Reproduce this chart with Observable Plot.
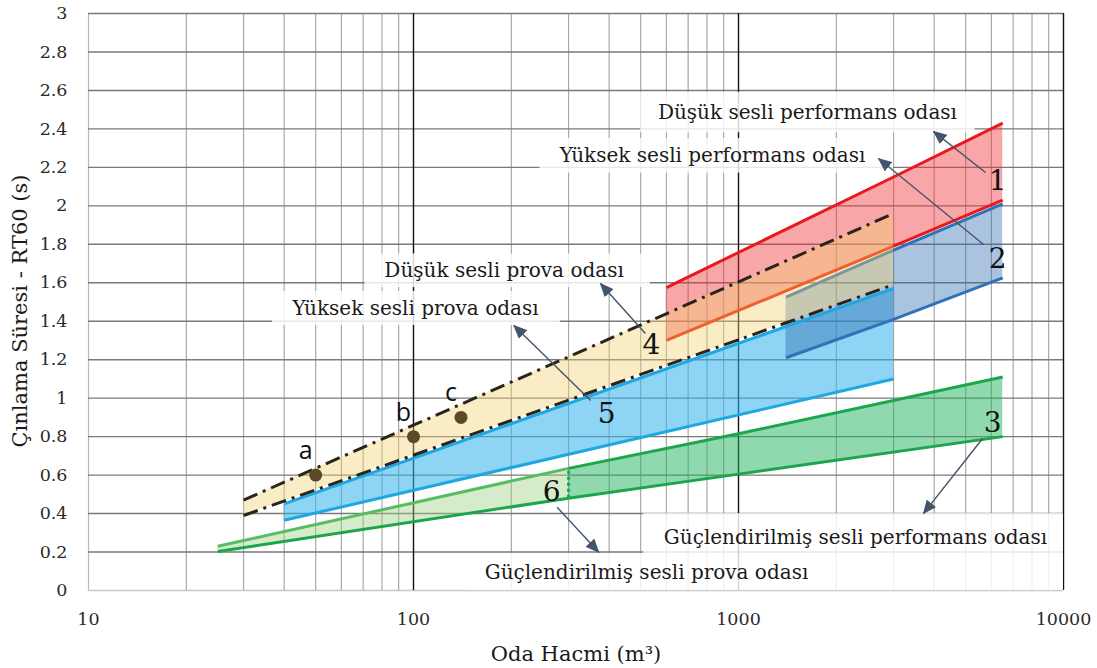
<!DOCTYPE html>
<html>
<head>
<meta charset="utf-8">
<script src="https://cdn.jsdelivr.net/npm/d3@7"></script>
<script src="https://cdn.jsdelivr.net/npm/@observablehq/plot@0.6"></script>
<style>
  html, body { margin: 0; padding: 0; background: #fff; }
</style>
</head>
<body>
<div id="chart"></div>
<script>
// Axis ticks and grid: room volume (m³, log) vs. reverberation time RT60 (s)
const xTicks = [10, 100, 1000, 10000];
const yTicks = [0, 0.2, 0.4, 0.6, 0.8, 1, 1.2, 1.4, 1.6, 1.8, 2, 2.2, 2.4, 2.6, 2.8, 3];
const minorGridX = [20, 30, 40, 50, 60, 70, 80, 90,
                    200, 300, 400, 500, 600, 700, 800, 900,
                    2000, 3000, 4000, 5000, 6000, 7000, 8000, 9000];
const majorGridX = [100, 1000, 10000];

// 1 — Düşük sesli performans odası
const quietPerfX = [600, 3000, 6500];
const quietPerfMin = [1.30, 1.79, 2.03];
const quietPerfMax = [1.575, 2.15, 2.43];

// 2 — Yüksek sesli performans odası
const loudPerfX = [1400, 3000, 6500];
const loudPerfMin = [1.21, 1.41, 1.625];
const loudPerfMax = [1.525, 1.77, 2.01];

// 3 — Güçlendirilmiş sesli performans odası
const ampPerfX = [300, 1000, 6500];
const ampPerfMin = [0.48, 0.605, 0.80];
const ampPerfMax = [0.635, 0.815, 1.11];

// 4 — Düşük sesli prova odası
const quietRehX = [30, 3000];
const quietRehMin = [0.39, 1.59];
const quietRehMax = [0.47, 1.96];

// 5 — Yüksek sesli prova odası
const loudRehX = [40, 3000];
const loudRehMin = [0.365, 1.10];
const loudRehMax = [0.45, 1.57];

// 6 — Güçlendirilmiş sesli prova odası
const ampRehX = [25, 300];
const ampRehMin = [0.203, 0.48];
const ampRehMax = [0.23, 0.635];

// Measured rooms a, b, c
const roomNames = ["a", "b", "c"];
const roomVolume = [50, 100, 140];
const roomRT60 = [0.60, 0.80, 0.90];

// Zone numbers and room-type names (placed in m³ / s)
const zoneNumbers = ["1", "2", "3", "4", "5", "6"];
const zoneNumberX = [6270, 6270, 6050, 540, 393, 266];
const zoneNumberY = [2.127, 1.726, 0.873, 1.274, 0.915, 0.51];

const zoneNames = [
  "Düşük sesli performans odası",
  "Yüksek sesli performans odası",
  "Güçlendirilmiş sesli performans odası",
  "Düşük sesli prova odası",
  "Yüksek sesli prova odası",
  "Güçlendirilmiş sesli prova odası"
];
const zoneNameX = [1630, 832, 2290, 190, 101.5, 521];
const zoneNameY = [2.485, 2.262, 0.276, 1.664, 1.466, 0.094];

// White panels behind the names
const panelX1 = [500, 245, 511, 71, 36.8, 145];
const panelX2 = [5350, 3000, 10000, 536, 283, 10000];
const panelY1 = [2.38, 2.17, 0.192, 1.575, 1.378, 0];
const panelY2 = [2.59, 2.35, 0.40, 1.75, 1.555, 0.192];

// Callout arrows from each zone number to its name
const calloutX1 = [5755, 5675, 5637, 517, 351, 276.6];
const calloutY1 = [2.173, 1.799, 0.79, 1.336, 0.988, 0.433];
const calloutX2 = [3981, 2698, 3707, 376, 203.6, 371.6];
const calloutY2 = [2.387, 2.246, 0.40, 1.596, 1.378, 0.199];

// ---- tables for the marks ----
const band = (xs, lo, hi) => xs.map((x, i) => ({x, lo: lo[i], hi: hi[i]}));
const quietPerf = band(quietPerfX, quietPerfMin, quietPerfMax);
const loudPerf = band(loudPerfX, loudPerfMin, loudPerfMax);
const ampPerf = band(ampPerfX, ampPerfMin, ampPerfMax);
const quietReh = band(quietRehX, quietRehMin, quietRehMax);
const loudReh = band(loudRehX, loudRehMin, loudRehMax);
const ampReh = band(ampRehX, ampRehMin, ampRehMax);

const rooms = roomNames.map((name, i) => ({name, x: roomVolume[i], y: roomRT60[i]}));
const numbers = zoneNumbers.map((t, i) => ({t, x: zoneNumberX[i], y: zoneNumberY[i]}));
const names = zoneNames.map((t, i) => ({t, x: zoneNameX[i], y: zoneNameY[i]}));
const panels = panelX1.map((x1, i) => ({x1, x2: panelX2[i], y1: panelY1[i], y2: panelY2[i]}));
const callouts = calloutX1.map((x1, i) => ({x1, y1: calloutY1[i], x2: calloutX2[i], y2: calloutY2[i]}));

const serif = "DejaVu Serif";
const lw = 3;
const dashDot = "15,6,3,6";

const chart = Plot.plot({
  width: 1097,
  height: 668,
  marginLeft: 88,
  marginRight: 34,
  marginTop: 13,
  marginBottom: 78,
  style: {fontFamily: serif, fontSize: "17.5px", color: "#2a2a2a", background: "#fff"},
  x: {type: "log", domain: [10, 10000]},
  y: {domain: [0, 3]},
  marks: [
    // grid
    Plot.ruleX(minorGridX, {stroke: "#a9a9a9", strokeWidth: 1.2}),
    Plot.ruleX([10], {stroke: "#b8b8b8", strokeWidth: 1.2}),
    Plot.ruleY(yTicks.filter(d => d > 0), {stroke: "#7a7a7a", strokeWidth: 1.4}),
    Plot.ruleY([0], {stroke: "#c8c8c8", strokeWidth: 1.3}),
    Plot.ruleX(majorGridX, {stroke: "#111", strokeWidth: 1.4}),

    // panels behind the room-type names
    Plot.rect(panels, {x1: "x1", x2: "x2", y1: "y1", y2: "y2", fill: "#fff", fillOpacity: 0.82}),

    // zone fills
    Plot.areaY(quietPerf, {x: "x", y1: "lo", y2: "hi", fill: "#ee2a30", fillOpacity: 0.42}),
    Plot.areaY(loudReh, {x: "x", y1: "lo", y2: "hi", fill: "#36b2ec", fillOpacity: 0.56}),
    Plot.areaY(loudPerf, {x: "x", y1: "lo", y2: "hi", fill: "#2a69b0", fillOpacity: 0.4}),
    Plot.line(loudPerf, {x: "x", y: "hi", stroke: "#2e72b8", strokeWidth: lw, strokeLinecap: "butt"}),
    Plot.line(loudPerf, {x: "x", y: "lo", stroke: "#2e72b8", strokeWidth: lw, strokeLinecap: "butt"}),
    Plot.areaY(quietReh, {x: "x", y1: "lo", y2: "hi", fill: "#f2cf6e", fillOpacity: 0.4}),
    Plot.areaY(ampPerf, {x: "x", y1: "lo", y2: "hi", fill: "#22b35e", fillOpacity: 0.5}),
    Plot.areaY(ampReh, {x: "x", y1: "lo", y2: "hi", fill: "#9ccf7e", fillOpacity: 0.42}),

    // zone boundaries
    Plot.line(loudReh, {x: "x", y: "hi", stroke: "#1ea8e2", strokeWidth: lw, strokeLinecap: "butt"}),
    Plot.line(loudReh, {x: "x", y: "lo", stroke: "#1ea8e2", strokeWidth: lw, strokeLinecap: "butt"}),
    Plot.line(quietPerf, {x: "x", y: "hi", stroke: "#e8191f", strokeWidth: lw, strokeLinecap: "butt"}),
    Plot.line(quietPerf.slice(0, 2), {x: "x", y: "lo", stroke: "#f0602e", strokeWidth: lw, strokeLinecap: "butt"}),
    Plot.line(quietPerf.slice(1), {x: "x", y: "lo", stroke: "#e8191f", strokeWidth: lw, strokeLinecap: "butt"}),
    Plot.line(ampReh, {x: "x", y: "hi", stroke: "#56bd62", strokeWidth: lw, strokeLinecap: "butt"}),
    Plot.line(ampReh, {x: "x", y: "lo", stroke: "#1ca64c", strokeWidth: lw, strokeLinecap: "butt"}),
    Plot.line(ampPerf, {x: "x", y: "hi", stroke: "#1ca64c", strokeWidth: lw, strokeLinecap: "butt"}),
    Plot.line(ampPerf, {x: "x", y: "lo", stroke: "#1ca64c", strokeWidth: lw, strokeLinecap: "butt"}),
    Plot.ruleX([ampPerfX[0]], {y1: ampPerfMin[0], y2: ampPerfMax[0], stroke: "#1ca64c", strokeWidth: lw, strokeDasharray: "3,3"}),
    Plot.line(quietReh, {x: "x", y: "hi", stroke: "#2a241c", strokeWidth: lw, strokeDasharray: dashDot, strokeLinecap: "butt"}),
    Plot.line(quietReh, {x: "x", y: "lo", stroke: "#2a241c", strokeWidth: lw, strokeDasharray: dashDot, strokeLinecap: "butt"}),

    // measured rooms
    Plot.dot(rooms, {x: "x", y: "y", r: 6.5, fill: "#5b4a28", stroke: "none"}),
    Plot.text(rooms, {x: "x", y: "y", text: "name", dx: -10, dy: -24, fontFamily: "Open Sans", fontSize: 25, fill: "#111"}),

    // callouts
    Plot.link(callouts, {x1: "x1", y1: "y1", x2: "x2", y2: "y2", stroke: "#44546a", strokeWidth: 1.4}),
    Plot.text(numbers, {x: "x", y: "y", text: "t", fontFamily: serif, fontSize: 28, fill: "#111"}),
    Plot.text(names, {x: "x", y: "y", text: "t", fontFamily: serif, fontSize: 20, fill: "#1a1a1a"}),

    // axes
    Plot.axisX(xTicks, {anchor: "bottom", tickSize: 0, tickPadding: 22, tickFormat: d => String(d), label: null}),
    Plot.axisY(yTicks, {anchor: "left", tickSize: 0, tickPadding: 21, tickFormat: d => String(d), label: null}),
    Plot.text(["Oda Hacmi (m³)"], {frameAnchor: "bottom", textAnchor: "middle", lineAnchor: "middle", dy: 64, fontFamily: serif, fontSize: 21, fill: "#1a1a1a"}),
    Plot.text(["Çınlama Süresi - RT60 (s)"], {frameAnchor: "left", textAnchor: "middle", lineAnchor: "middle", dx: -68, dy: 9, rotate: -90, fontFamily: serif, fontSize: 21, fill: "#1a1a1a"})
  ]
});

// Filled arrowheads on the callout links
const ns = "http://www.w3.org/2000/svg";
const defs = document.createElementNS(ns, "defs");
const marker = document.createElementNS(ns, "marker");
marker.setAttribute("id", "callout-head");
marker.setAttribute("viewBox", "0 0 14 12");
marker.setAttribute("refX", "13");
marker.setAttribute("refY", "6");
marker.setAttribute("markerWidth", "14");
marker.setAttribute("markerHeight", "12");
marker.setAttribute("markerUnits", "userSpaceOnUse");
marker.setAttribute("orient", "auto");
const head = document.createElementNS(ns, "path");
head.setAttribute("d", "M0,0L14,6L0,12Z");
head.setAttribute("fill", "#44546a");
marker.appendChild(head);
defs.appendChild(marker);
chart.insertBefore(defs, chart.firstChild);
chart.querySelectorAll('g[aria-label="link"] path').forEach(p => p.setAttribute("marker-end", "url(#callout-head)"));

document.getElementById("chart").appendChild(chart);
</script>
</body>
</html>
